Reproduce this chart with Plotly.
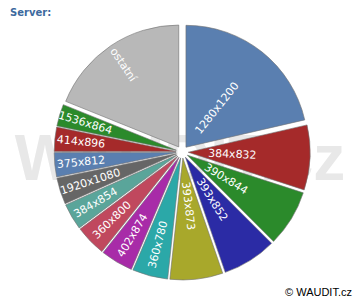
import plotly.graph_objects as go

labels = ["1280x1200", "384x832", "390x844", "393x852", "393x873", "360x780",
          "402x874", "360x800", "384x854", "1920x1080", "375x812", "414x896",
          "1536x864", "ostatní"]
values = [21.4, 8.6, 7.5, 7.2, 7.0, 4.7, 4.3, 4.1, 3.5, 3.5, 3.2, 3.2, 2.9, 18.9]
colors = ["#5a7fb0", "#a52a2a", "#2b8a2b", "#2b2ba5", "#a8a82b", "#2ba8a8",
          "#a82ba8", "#c0485e", "#5aa59a", "#666666", "#5a7fb0", "#a52a2a",
          "#2b8a2b", "#b8b8b8"]
# trailing padding (non-breaking spaces) to shift labels along the radius
pad = [9, 16, 16, 14, 15, 0, 0, 0, 0, 0, 0, 0, 0, 19]
texts = [lab + "\u00a0" * p for lab, p in zip(labels, pad)]

fig = go.Figure()

# watermark (behind pie)
fig.add_trace(go.Scatter(
    x=[0.5], y=[0.5], mode="text", text=["WAUDIT.cz"],
    textfont=dict(family="Liberation Sans", size=64, color="#e8e8e8", weight="bold"),
    hoverinfo="skip", showlegend=False))

fig.add_trace(go.Pie(
    labels=labels, values=values, text=texts, sort=False, direction="clockwise", rotation=0,
    marker=dict(colors=colors, line=dict(color="#707070", width=0.6)),
    pull=[0.05] * len(values),
    textinfo="text", textposition="inside", insidetextorientation="radial",
    textfont=dict(family="DejaVu Sans", size=11, color="white"),
    domain=dict(x=[0.15, 0.862], y=[0.0667, 0.92]),
    showlegend=False, hoverinfo="skip"))

fig.update_layout(
    width=360, height=300, margin=dict(l=0, r=0, t=0, b=0),
    paper_bgcolor="white", plot_bgcolor="white",
    xaxis=dict(visible=False, range=[0, 1], domain=[0, 1], fixedrange=True),
    yaxis=dict(visible=False, range=[0.4, 0.62], domain=[0, 1], fixedrange=True),
    uniformtext=dict(minsize=11, mode="show"),
    annotations=[
        dict(text="<b>Server:</b>", x=8 / 360, y=1 - 12 / 300, xref="paper", yref="paper",
             showarrow=False, xanchor="left", yanchor="middle",
             font=dict(family="DejaVu Sans", size=10, color="#3d6a9e")),
        dict(text="© WAUDIT.cz", x=354 / 360, y=8 / 300, xref="paper", yref="paper",
             showarrow=False, xanchor="right", yanchor="middle",
             font=dict(family="Liberation Sans", size=11, color="#000000")),
    ],
)

fig.write_html("out.html")
